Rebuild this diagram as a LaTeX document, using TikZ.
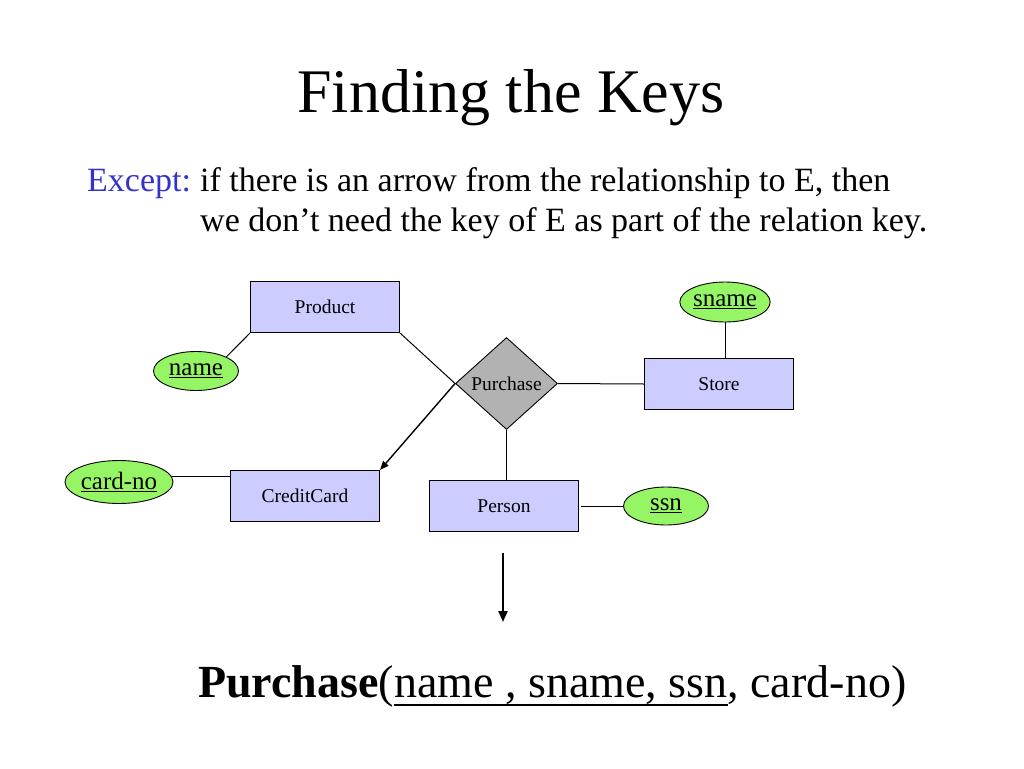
\documentclass[tikz,border=0pt]{standalone}
\usepackage{fontspec}
\setmainfont{Liberation Serif}
\usetikzlibrary{shapes.geometric,arrows.meta}
\definecolor{entfill}{RGB}{204,204,255}
\definecolor{attrfill}{RGB}{150,245,100}
\definecolor{relfill}{RGB}{178,178,178}
\definecolor{exceptblue}{RGB}{51,51,204}
\newcommand\myul[3]{\setbox0=\hbox{#3}\rlap{\rule[-#1]{\wd0}{#2}}\box0}
\tikzset{
  entity/.style={draw, line width=0.9pt, fill=entfill, rectangle, inner sep=0pt,
    minimum width=149pt, minimum height=51pt, font=\fontsize{19.5}{22}\selectfont},
  attr/.style={draw, line width=0.9pt, fill=attrfill, ellipse, inner sep=0pt,
    font=\fontsize{25}{28}\selectfont},
  rel/.style={draw, line width=0.9pt, fill=relfill, diamond, inner sep=0pt,
    minimum width=102pt, minimum height=92pt, font=\fontsize{19.5}{22}\selectfont},
  body/.style={anchor=base west, inner sep=0pt, font=\fontsize{34}{40}\selectfont},
  conn/.style={line width=1pt},
  arr/.style={line width=1.4pt, -{Triangle[length=9pt,width=7pt]}},
  bigarr/.style={line width=2.2pt, -{Triangle[length=11pt,width=9pt]}},
}
\begin{document}
\begin{tikzpicture}[x=1pt,y=-1pt]
\useasboundingbox[fill=white] (0,0) rectangle (1024,768);
% title and text
\node[anchor=base, font=\fontsize{62}{72}\selectfont] (title) at (511,112) {Finding the Keys};
\node[body, text=exceptblue] (exc) at (87,191) {Except:};
\node[body] (l1) at (200,191) {if there is an arrow from the relationship to E, then};
\node[body] (l2) at (200,231) {we don’t need the key of E as part of the relation key.};
% entities
\node[entity] (prod) at (325,307) {Product};
\node[entity] (store) at (719,384) {Store};
\node[entity] (cc) at (305,496) {CreditCard};
\node[entity] (person) at (504,506) {Person};
\node[rel] (purch) at (506.5,383.5) {Purchase};
% attributes
\node[attr, minimum width=85pt, minimum height=39pt] (name) at (196,371) {\myul{3pt}{1.1pt}{name}};
\node[attr, minimum width=87pt, minimum height=40pt] (sname) at (725,302) {\myul{3pt}{1.1pt}{sname}};
\node[attr, minimum width=103pt, minimum height=43pt] (cardno) at (119,482) {\myul{3pt}{1.1pt}{card-no}};
\node[attr, minimum width=85pt, minimum height=38pt] (ssn) at (666,506) {\myul{3pt}{1.1pt}{ssn}};
% connectors
\draw[conn] (prod.south west) -- (name.north east);
\draw[conn] (prod.south east) -- (purch.west);
\draw[arr] (purch.west) -- (cc.north east);
\draw[conn] (purch.east) -- (store.west);
\draw[conn] (sname.south) -- (sname.south |- store.north);
\draw[conn] (purch.south) -- (purch.south |- person.north);
\draw[conn] ([xshift=2pt]person.east) -- (ssn.west);
\draw[conn] (cardno.6) -- (cardno.6 -| cc.west);
% big arrow
\coordinate (bstart) at (503,553);
\coordinate (bend) at (503,622);
\draw[bigarr] (bstart) -- (bend);
% relation
\node[anchor=base west, inner sep=0pt, font=\fontsize{46}{52}\selectfont] (schema) at (198,697)
  {\textbf{Purchase}(\myul{9pt}{2pt}{name , sname, ssn}, card-no)};
\end{tikzpicture}
\end{document}
